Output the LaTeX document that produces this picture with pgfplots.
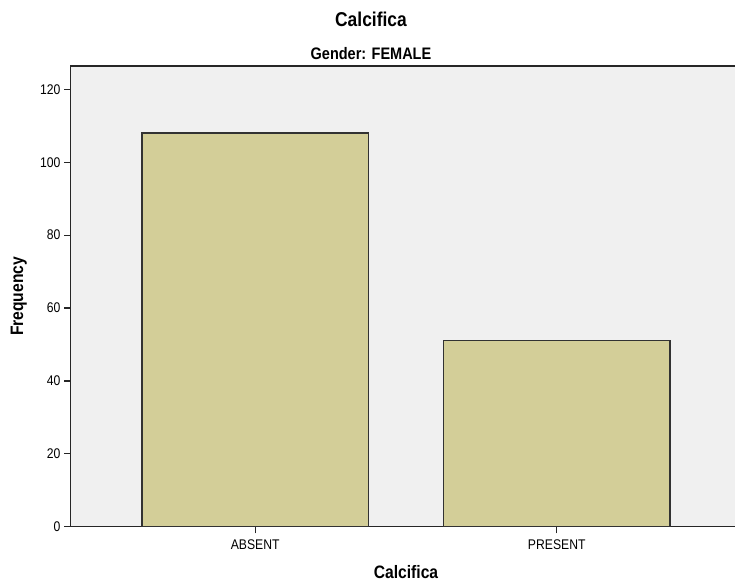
\documentclass[border=0pt]{standalone}
\usepackage{fontspec}
\setmainfont{Liberation Sans}[FakeStretch=0.87]
\usepackage{pgfplots}
\pgfplotsset{compat=1.18}
\definecolor{bgcol}{RGB}{240,240,240}
\definecolor{barcol}{RGB}{211,206,152}
\definecolor{edgecol}{RGB}{50,50,50}
\begin{document}
\begin{tikzpicture}[x=1pt,y=1pt]
\path[use as bounding box] (-53.0,-45.2) rectangle (498.2,395.0);
\clip (-53.0,-45.2) rectangle (498.2,395.0);
\begin{axis}[
  at={(0,0)}, anchor=south west,
  scale only axis, width=502.9pt, height=345.5pt,
  xmin=-0.612, xmax=1.612, ymin=0, ymax=126.4,
  axis background/.style={fill=bgcol},
  axis line style={draw=black!85, line width=0.9pt},
  xtick={0,1}, xticklabels={ABSENT,PRESENT},
  ytick={0,20,40,60,80,100,120},
  xtick pos=bottom, ytick pos=left,
  tick align=outside, major tick length=5pt,
  every tick/.style={draw=black!85, line width=0.9pt},
  xtick style={draw=black!85, line width=0.9pt},
  ytick style={draw=black!85, line width=0.9pt},
  /pgf/number format/assume math mode=true,
  ticklabel style={font=\fontsize{10.5}{12}\selectfont},
  yticklabel style={xshift=0.8pt},
  xticklabel style={yshift=-1pt},
  xlabel={Calcifica}, ylabel={Frequency},
  xlabel style={font=\bfseries\fontsize{13.5}{15}\selectfont, at={(axis description cs:0.5,0)}, anchor=base, yshift=-38.5pt},
  ylabel style={font=\bfseries\fontsize{13.5}{15}\selectfont, at={(axis description cs:-0.0772,0.5)}, anchor=center},
]
\addplot[ybar, bar width=0.751, fill=barcol, draw=edgecol, line width=1pt]
  coordinates {(0,108) (1,51)};
\end{axis}
\node[anchor=base, font=\bfseries\fontsize{15}{17}\selectfont] at (225.2,375.5) {Calcifica};
\node[anchor=base, font=\bfseries\fontsize{12.5}{14}\selectfont] at (225.2,350.6) {Gender: FEMALE};
\end{tikzpicture}
\end{document}
